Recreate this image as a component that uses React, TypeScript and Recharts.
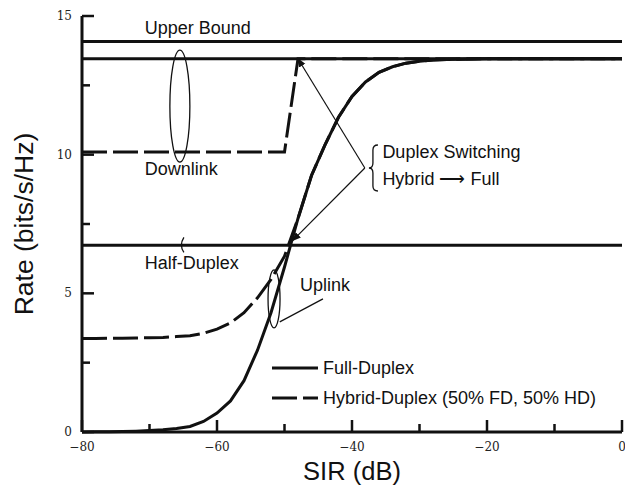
import {
  Customized,
  Legend,
  Line,
  LineChart,
  ReferenceLine,
  XAxis,
  YAxis,
} from "recharts"

// SIR samples (dB) and rates (bits/s/Hz)
const sir = [
  -80, -78, -76, -74, -72, -70, -68, -66, -64, -62, -60, -58, -56, -54, -52,
  -50, -48, -46, -44, -42, -40, -38, -36, -34, -32, -30, -28, -26, -24, -22,
  -20, -18, -16, -14, -12, -10, -8, -6, -4, -2, 0,
]
const fullUplink = [
  0, 0.01, 0.01, 0.02, 0.03, 0.05, 0.08, 0.13, 0.2, 0.38, 0.68, 1.12, 1.85,
  2.95, 4.3, 5.95, 7.7, 9.25, 10.35, 11.35, 12.1, 12.62, 12.97, 13.17, 13.3,
  13.37, 13.41, 13.43, 13.44, 13.45, 13.46, 13.46, 13.46, 13.46, 13.46, 13.46,
  13.46, 13.46, 13.46, 13.46, 13.46,
]
const hybridUplink = [
  3.37, 3.37, 3.38, 3.38, 3.39, 3.4, 3.41, 3.44, 3.47, 3.56, 3.71, 3.93, 4.3,
  4.84, 5.5, 6.34, 7.7, 9.25, 10.35, 11.35, 12.1, 12.62, 12.97, 13.17, 13.3,
  13.37, 13.41, 13.43, 13.44, 13.45, 13.46, 13.46, 13.46, 13.46, 13.46, 13.46,
  13.46, 13.46, 13.46, 13.46, 13.46,
]
const hybridDownlink = [
  10.1, 10.1, 10.1, 10.1, 10.1, 10.1, 10.1, 10.1, 10.1, 10.1, 10.1, 10.1, 10.1,
  10.1, 10.1, 10.1, 13.46, 13.46, 13.46, 13.46, 13.46, 13.46, 13.46, 13.46,
  13.46, 13.46, 13.46, 13.46, 13.46, 13.46, 13.46, 13.46, 13.46, 13.46, 13.46,
  13.46, 13.46, 13.46, 13.46, 13.46, 13.46,
]
const fullDownlink = 13.46
const halfDuplex = 6.73
const upperBound = 14.08

const xTicks = [-80, -70, -60, -50, -40, -30, -20, -10, 0]
const yTicks = [0, 2.5, 5, 7.5, 10, 12.5, 15]
const xLabelled = [-80, -60, -40, -20, 0]
const yLabelled = [0, 5, 10, 15]

const legendItems = [
  { label: "Full-Duplex", dashed: false },
  { label: "Hybrid-Duplex (50% FD, 50% HD)", dashed: true },
]

const data = sir.map((value, index) => ({
  sir: value,
  fullUplink: fullUplink[index],
  hybridUplink: hybridUplink[index],
  hybridDownlink: hybridDownlink[index],
}))

const WIDTH = 625
const HEIGHT = 493
const Y_AXIS_WIDTH = 82
const X_AXIS_HEIGHT = 61
const MARGIN = { top: 16, right: 3, bottom: 0, left: 0 }
const X_DOMAIN: [number, number] = [-80, 0]
const Y_DOMAIN: [number, number] = [0, 15]
const PLOT = {
  left: MARGIN.left + Y_AXIS_WIDTH,
  right: WIDTH - MARGIN.right,
  top: MARGIN.top,
  bottom: HEIGHT - MARGIN.bottom - X_AXIS_HEIGHT,
}
const DASH = "25 6"
const SANS = "'Liberation Sans', Arial, Helvetica, sans-serif"
const SERIF = "'DejaVu Serif', 'Liberation Serif', serif"
const INK = "#111"
const NOTE_SIZE = 18

const px = (v: number) =>
  PLOT.left +
  ((v - X_DOMAIN[0]) / (X_DOMAIN[1] - X_DOMAIN[0])) * (PLOT.right - PLOT.left)
const py = (v: number) =>
  PLOT.bottom -
  ((v - Y_DOMAIN[0]) / (Y_DOMAIN[1] - Y_DOMAIN[0])) * (PLOT.bottom - PLOT.top)

function formatTick(value: number) {
  return value < 0 ? `\u2212${Math.abs(value)}` : `${value}`
}

function YTick({ x, y, payload }: any) {
  if (!yLabelled.includes(payload.value)) return <g />
  return (
    <text
      x={x}
      y={y}
      textAnchor="end"
      dominantBaseline="central"
      fontFamily={SERIF}
      fontSize={12}
      fill="#222"
    >
      {formatTick(payload.value)}
    </text>
  )
}

function XTick({ x, y, payload }: any) {
  if (!xLabelled.includes(payload.value)) return <g />
  return (
    <text
      x={x}
      y={y}
      textAnchor="middle"
      dominantBaseline="central"
      fontFamily={SERIF}
      fontSize={12}
      fill="#222"
    >
      {formatTick(payload.value)}
    </text>
  )
}

function LegendBox() {
  return (
    <div style={{ fontFamily: SANS, fontSize: NOTE_SIZE, color: INK }}>
      {legendItems.map((item) => (
        <div
          key={item.label}
          style={{ display: "flex", alignItems: "center", height: 30 }}
        >
          <svg width={51} height={10} style={{ flex: "none" }}>
            <line
              x1={0}
              x2={46}
              y1={5}
              y2={5}
              stroke={INK}
              strokeWidth={3}
              strokeDasharray={item.dashed ? DASH : undefined}
            />
          </svg>
          <span style={{ whiteSpace: "nowrap" }}>{item.label}</span>
        </div>
      ))}
    </div>
  )
}

// inward tick marks, placed through the same linear mapping as the axes
function TickMarks() {
  return (
    <g>
      {xTicks.map((v) => (
        <path
          key={`x${v}`}
          d={`M${px(v)},${PLOT.bottom} L${px(v)},${PLOT.bottom - (xLabelled.includes(v) ? 12 : 8)}`}
          stroke={INK}
          strokeWidth={2.5}
          fill="none"
        />
      ))}
      {yTicks.map((v) => (
        <path
          key={`y${v}`}
          d={`M${PLOT.left},${py(v)} L${PLOT.left + (yLabelled.includes(v) ? 12 : 8)},${py(v)}`}
          stroke={INK}
          strokeWidth={2.5}
          fill="none"
        />
      ))}
    </g>
  )
}

function Annotations() {
  const text = (label: string, x: number, y: number) => (
    <text
      key={label}
      x={px(x)}
      y={py(y)}
      fontFamily={SANS}
      fontSize={NOTE_SIZE}
      fill={INK}
    >
      {label}
    </text>
  )
  const start = { x: px(-38.1), y: py(9.52) }
  const braceX = px(-36.9)
  const braceY = py(9.52)
  const hd = { x: px(-65.2), y: py(halfDuplex) }
  return (
    <g>
      <defs>
        <marker
          id="arrowHead"
          viewBox="0 0 10 10"
          refX={9}
          refY={5}
          markerWidth={9}
          markerHeight={9}
          markerUnits="userSpaceOnUse"
          orient="auto"
        >
          <path d="M0,1 L10,5 L0,9 Z" fill={INK} />
        </marker>
      </defs>
      <TickMarks />
      {text("Upper Bound", -70.7, 14.35)}
      {text("Downlink", -70.7, 9.27)}
      {text("Half-Duplex", -70.7, 5.87)}
      {text("Uplink", -47.7, 5.1)}
      {text("Duplex Switching", -35.5, 9.87)}
      {text("Hybrid \u27F6 Full", -35.5, 8.9)}
      <ellipse
        cx={px(-65.5)}
        cy={py(11.75)}
        rx={10}
        ry={56}
        fill="none"
        stroke={INK}
        strokeWidth={1.3}
      />
      <ellipse
        cx={px(-51.55)}
        cy={py(4.8)}
        rx={6}
        ry={29}
        fill="none"
        stroke={INK}
        strokeWidth={1.3}
      />
      <line
        x1={px(-50.7)}
        y1={py(3.97)}
        x2={px(-44.3)}
        y2={py(4.8)}
        stroke={INK}
        strokeWidth={1.2}
      />
      <path
        d={`M${hd.x + 2},${hd.y - 8} Q${hd.x - 3},${hd.y} ${hd.x + 2},${hd.y + 7}`}
        fill="none"
        stroke={INK}
        strokeWidth={1.3}
      />
      <path
        d={`M${braceX + 5},${braceY - 23} Q${braceX},${braceY - 23} ${braceX},${braceY - 18} L${braceX},${braceY - 5} Q${braceX},${braceY} ${braceX - 4},${braceY} Q${braceX},${braceY} ${braceX},${braceY + 5} L${braceX},${braceY + 18} Q${braceX},${braceY + 23} ${braceX + 5},${braceY + 23}`}
        fill="none"
        stroke={INK}
        strokeWidth={1.3}
      />
      <line
        x1={start.x}
        y1={start.y}
        x2={px(-48)}
        y2={py(fullDownlink)}
        stroke={INK}
        strokeWidth={1.2}
        markerEnd="url(#arrowHead)"
      />
      <line
        x1={start.x}
        y1={start.y}
        x2={px(-48.8)}
        y2={py(6.9)}
        stroke={INK}
        strokeWidth={1.2}
        markerEnd="url(#arrowHead)"
      />
    </g>
  )
}

export default function App() {
  return (
    <div
      style={{
        position: "absolute",
        left: 0,
        top: 0,
        width: WIDTH,
        height: HEIGHT,
        background: "#fff",
      }}
    >
      <LineChart width={WIDTH} height={HEIGHT} data={data} margin={MARGIN}>
        <XAxis
          dataKey="sir"
          type="number"
          domain={X_DOMAIN}
          ticks={xTicks}
          interval={0}
          height={X_AXIS_HEIGHT}
          tickSize={0}
          tickMargin={15}
          tickLine={false}
          axisLine={{ stroke: INK, strokeWidth: 3 }}
          tick={<XTick />}
          label={{
            content: ({ viewBox }: any) => (
              <text
                x={viewBox.x + viewBox.width / 2}
                y={viewBox.y + 48}
                textAnchor="middle"
                fontFamily={SANS}
                fontSize={25.5}
                fill={INK}
              >
                SIR (dB)
              </text>
            ),
          }}
        />
        <YAxis
          type="number"
          domain={Y_DOMAIN}
          ticks={yTicks}
          interval={0}
          width={Y_AXIS_WIDTH}
          tickSize={0}
          tickMargin={10}
          tickLine={false}
          axisLine={{ stroke: INK, strokeWidth: 3 }}
          tick={<YTick />}
          label={{
            content: ({ viewBox }: any) => {
              const cx = viewBox.x + 24
              const cy = viewBox.y + viewBox.height / 2
              return (
                <text
                  x={cx}
                  y={cy}
                  transform={`rotate(-90 ${cx} ${cy})`}
                  textAnchor="middle"
                  dominantBaseline="central"
                  fontFamily={SANS}
                  fontSize={26.5}
                  fill={INK}
                >
                  Rate (bits/s/Hz)
                </text>
              )
            },
          }}
        />
        <ReferenceLine y={upperBound} stroke={INK} strokeWidth={3} />
        <ReferenceLine y={fullDownlink} stroke={INK} strokeWidth={3} />
        <ReferenceLine y={halfDuplex} stroke={INK} strokeWidth={3} />
        <Line
          dataKey="hybridDownlink"
          type="linear"
          stroke={INK}
          strokeWidth={3}
          strokeDasharray={DASH}
          dot={false}
          activeDot={false}
          isAnimationActive={false}
        />
        <Line
          dataKey="hybridUplink"
          type="linear"
          stroke={INK}
          strokeWidth={3}
          strokeDasharray={DASH}
          dot={false}
          activeDot={false}
          isAnimationActive={false}
        />
        <Line
          dataKey="fullUplink"
          type="linear"
          stroke={INK}
          strokeWidth={3}
          dot={false}
          activeDot={false}
          isAnimationActive={false}
        />
        <Legend
          layout="horizontal"
          verticalAlign="middle"
          align="center"
          content={<LegendBox />}
          wrapperStyle={{ left: 272, top: 353, width: 350, height: 60 }}
        />
        <Customized component={<Annotations />} />
      </LineChart>
    </div>
  )
}
